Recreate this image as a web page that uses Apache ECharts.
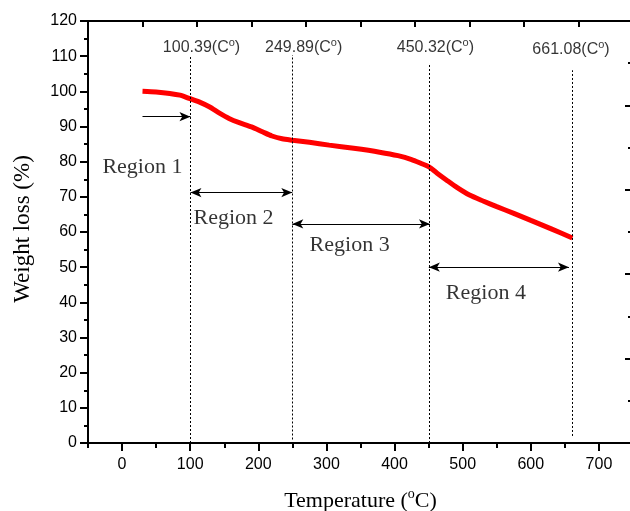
<!DOCTYPE html>
<html><head><meta charset="utf-8">
<script src="https://cdn.jsdelivr.net/npm/echarts@6/dist/echarts.min.js"></script>
<style>html,body{margin:0;padding:0;background:#fff}#c{width:630px;height:511px}</style>
</head><body><div id="c"></div>
<script>
// TGA curve
const temperature = [30, 50, 70, 85, 98.5, 113, 128, 143, 157, 172, 190, 206, 220, 235, 250, 275, 304, 340, 378, 405, 425, 440, 450, 462, 476, 492, 510, 530, 550, 575, 600, 630, 661];
const weightLoss  = [100, 99.8, 99.4, 98.9, 98.0, 97.0, 95.6, 93.8, 92.3, 91.1, 89.9, 88.5, 87.3, 86.5, 86.1, 85.5, 84.7, 83.8, 82.7, 81.7, 80.6, 79.4, 78.6, 76.8, 74.8, 72.6, 70.5, 68.8, 67.2, 65.3, 63.3, 60.9, 58.3];
// ticks
const xTickLabels = [0, 100, 200, 300, 400, 500, 600, 700];
const xMinorTicks = [-50, 50, 150, 250, 350, 450, 550, 650, 750];
// transition temperatures (dotted verticals)
const markerTemps  = [100.39, 249.89, 450.32, 661.08];
const markerTop    = [110.3, 110.3, 107.5, 106];
const markerBottom = [0, 1, 0, 2];
const markerLabelX = [116.6, 266.6, 460, 659];
const markerLabelY = [112.3, 112.3, 112.3, 111.8];
// regions
const regionNames  = ['Region 1', 'Region 2', 'Region 3', 'Region 4'];
const regionLabelX = [29.9, 163.7, 334, 534];
const regionLabelY = [78.5, 64, 56.3, 42.7];
const arrowStart   = [30, 100.39, 249.89, 450.32];
const arrowEnd     = [100.39, 249.89, 452, 656];
const arrowLevel   = [92.8, 71.2, 62.3, 50];
const arrowBoth    = [false, true, true, true];

const chart = echarts.init(document.getElementById('c'), null, {renderer: 'canvas'});
const sans = 'Liberation Sans', serif = 'Liberation Serif';
const axisLineStyle = {color: '#000', width: 2};

const markLines = [];
markerTemps.forEach((t, i) => {
  markLines.push([
    {coord: [t, markerBottom[i]], symbol: 'none', lineStyle: {type: [2, 2], width: 1, color: '#000'}},
    {coord: [t, markerTop[i]], symbol: 'none'}
  ]);
});
arrowStart.forEach((s, i) => {
  markLines.push([
    {coord: [s, arrowLevel[i]], symbol: arrowBoth[i] ? 'arrow' : 'none', lineStyle: {type: 'solid', width: 1.2, color: '#000'}},
    {coord: [arrowEnd[i], arrowLevel[i]], symbol: 'arrow'}
  ]);
});

const option = {
  animation: false,
  backgroundColor: '#fff',
  grid: {left: 88, right: -3, top: 21, bottom: 68, containLabel: false, outerBoundsMode: 'none'},
  xAxis: [
    {
      type: 'value', position: 'bottom', min: -50, max: 750,
      name: '{a|Temperature (}{s|o}{a|C)}', nameLocation: 'middle', nameGap: 44,
      nameTextStyle: {rich: {
        a: {fontFamily: serif, fontSize: 22, color: '#000', lineHeight: 28},
        s: {fontFamily: serif, fontSize: 14, color: '#000', lineHeight: 14, verticalAlign: 'top'}
      }},
      axisLine: {show: true, onZero: false, lineStyle: axisLineStyle},
      axisTick: {show: true, customValues: xTickLabels, length: 8, lineStyle: axisLineStyle},
      axisLabel: {customValues: xTickLabels, margin: 14, fontSize: 16, color: '#000', fontFamily: sans},
      splitLine: {show: false}
    },
    {
      type: 'value', position: 'bottom', min: -50, max: 750,
      axisLine: {show: false},
      axisTick: {show: true, customValues: xMinorTicks, length: 5, lineStyle: axisLineStyle},
      axisLabel: {show: false}, splitLine: {show: false}
    },
    {
      type: 'value', position: 'top', min: 0, max: 10, interval: 1,
      axisLine: {show: true, onZero: false, lineStyle: axisLineStyle},
      axisTick: {show: true, inside: true, length: 6, lineStyle: axisLineStyle},
      axisLabel: {show: false}, splitLine: {show: false}
    }
  ],
  yAxis: [
    {
      type: 'value', position: 'left', min: 0, max: 120, interval: 10,
      name: 'Weight loss (%)', nameLocation: 'middle', nameGap: 54, nameRotate: 90,
      nameTextStyle: {fontFamily: serif, fontSize: 23, color: '#000', padding: [0, 0, 0, 6]},
      axisLine: {show: true, onZero: false, lineStyle: axisLineStyle},
      axisTick: {show: true, length: 8, lineStyle: axisLineStyle},
      minorTick: {show: true, splitNumber: 2, length: 4, lineStyle: {color: '#000', width: 2}},
      axisLabel: {margin: 11, fontSize: 16, color: '#000', fontFamily: sans},
      splitLine: {show: false}, minorSplitLine: {show: false}
    },
    {
      type: 'value', position: 'right', min: 0, max: 5, interval: 1,
      axisLine: {show: true, onZero: false, lineStyle: axisLineStyle},
      axisTick: {show: true, inside: true, length: 8, lineStyle: axisLineStyle},
      minorTick: {show: true, splitNumber: 2, length: 5, lineStyle: {color: '#000', width: 2}},
      axisLabel: {show: false}, splitLine: {show: false}, minorSplitLine: {show: false}
    }
  ],
  series: [
    {
      type: 'line', xAxisIndex: 0, yAxisIndex: 0,
      data: temperature.map((t, i) => [t, weightLoss[i]]),
      smooth: 0.25, showSymbol: false, symbol: 'none',
      lineStyle: {color: '#ff0000', width: 5}, z: 3
    },
    {
      type: 'line', xAxisIndex: 0, yAxisIndex: 0, data: [], z: 2,
      markLine: {
        silent: true, animation: false, symbol: ['none', 'arrow'], symbolSize: [7, 11],
        label: {show: false},
        emphasis: {disabled: true},
        data: markLines
      }
    },
    {
      type: 'scatter', xAxisIndex: 0, yAxisIndex: 0, symbolSize: 1,
      itemStyle: {color: 'rgba(0,0,0,0)'}, silent: true, z: 5,
      data: markerTemps.map((t, i) => [markerLabelX[i], markerLabelY[i]]),
      label: {
        show: true, position: 'inside',
        formatter: p => '{a|' + markerTemps[p.dataIndex].toFixed(2) + '(C}{s|o}{a|)}',
        rich: {
          a: {fontFamily: sans, fontSize: 16, color: '#000', lineHeight: 21},
          s: {fontFamily: sans, fontSize: 11, color: '#000', lineHeight: 11, verticalAlign: 'top'}
        }
      }
    },
    {
      type: 'scatter', xAxisIndex: 0, yAxisIndex: 0, symbolSize: 1,
      itemStyle: {color: 'rgba(0,0,0,0)'}, silent: true, z: 5,
      data: regionNames.map((n, i) => [regionLabelX[i], regionLabelY[i]]),
      label: {
        show: true, position: 'inside',
        formatter: p => regionNames[p.dataIndex],
        fontFamily: serif, fontSize: 22, color: '#000'
      }
    }
  ]
};
chart.setOption(option);
</script>
</body></html>
